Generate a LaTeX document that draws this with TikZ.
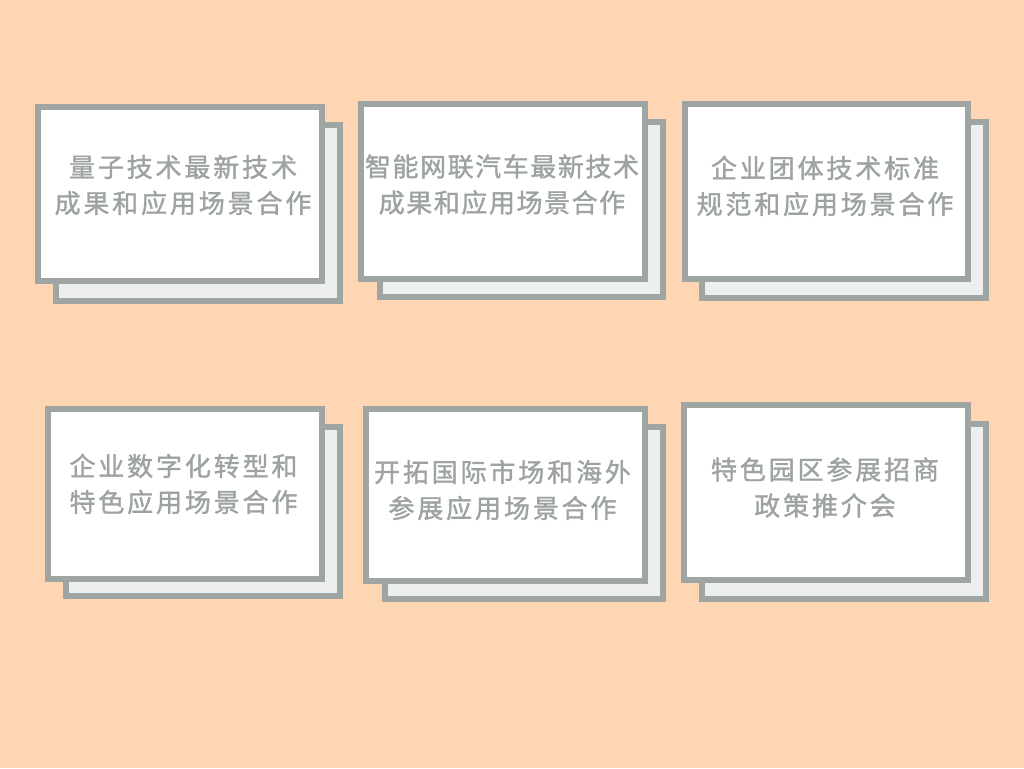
\documentclass[tikz,border=0pt]{standalone}
\usepackage{fontspec}
\newfontfamily\cjk{Noto Sans CJK SC}[LetterSpace=11,FakeBold=1.3]
\newfontfamily\cjktight{Noto Sans CJK SC}[LetterSpace=6,FakeBold=1.3]
\definecolor{bg}{HTML}{FFD6B3}
\definecolor{frame}{HTML}{9FA5A2}
\definecolor{backfill}{HTML}{EDEEF0}
\definecolor{txt}{HTML}{9CA3A0}
\tikzset{
  card/.style={draw=frame, line width=6pt, fill=white, inner sep=0pt, outer sep=0pt},
  backcard/.style={draw=frame, line width=6pt, fill=backfill, inner sep=0pt, outer sep=0pt},
  label text/.style={text=txt, align=center, inner sep=0pt, font=\cjk\fontsize{26pt}{36pt}\selectfont},
  tight text/.style={label text, font=\cjktight\fontsize{26pt}{36pt}\selectfont}
}
\begin{document}
\begin{tikzpicture}[x=1pt,y=-1pt]
\useasboundingbox (0,0) rectangle (1024,768);
\fill[bg] (0,0) rectangle (1024,768);
% card 1
\node[backcard, minimum width=284pt, minimum height=176pt] (b1) at (198,213) {};
\node[card, minimum width=284pt, minimum height=174pt] (c1) at (180,194) {};
\node[label text] (t1) at (183,185) {量子技术最新技术\\成果和应用场景合作};
% card 2
\node[backcard, minimum width=283pt, minimum height=175pt] (b2) at (521.5,209.5) {};
\node[card, minimum width=284pt, minimum height=175pt] (c2) at (503,191.5) {};
\node[tight text] (t2) at (502,184.5) {智能网联汽车最新技术\\成果和应用场景合作};
% card 3
\node[backcard, minimum width=284pt, minimum height=176pt] (b3) at (844,210) {};
\node[card, minimum width=283pt, minimum height=175pt] (c3) at (826.5,191.5) {};
\node[label text] (t3) at (825,186) {企业团体技术标准\\规范和应用场景合作};
% card 4
\node[backcard, minimum width=274pt, minimum height=169pt] (b4) at (203,511.5) {};
\node[card, minimum width=274pt, minimum height=170pt] (c4) at (185,494) {};
\node[label text] (t4) at (183.5,484) {企业数字化转型和\\特色应用场景合作};
% card 5
\node[backcard, minimum width=278pt, minimum height=172pt] (b5) at (524,513) {};
\node[card, minimum width=279pt, minimum height=172pt] (c5) at (505.5,495) {};
\node[label text] (t5) at (502.5,490) {开拓国际市场和海外\\参展应用场景合作};
% card 6
\node[backcard, minimum width=284pt, minimum height=175pt] (b6) at (844,511.5) {};
\node[card, minimum width=284pt, minimum height=175pt] (c6) at (826,492.5) {};
\node[label text] (t6) at (825,487.5) {特色园区参展招商\\政策推介会};
\end{tikzpicture}
\end{document}
